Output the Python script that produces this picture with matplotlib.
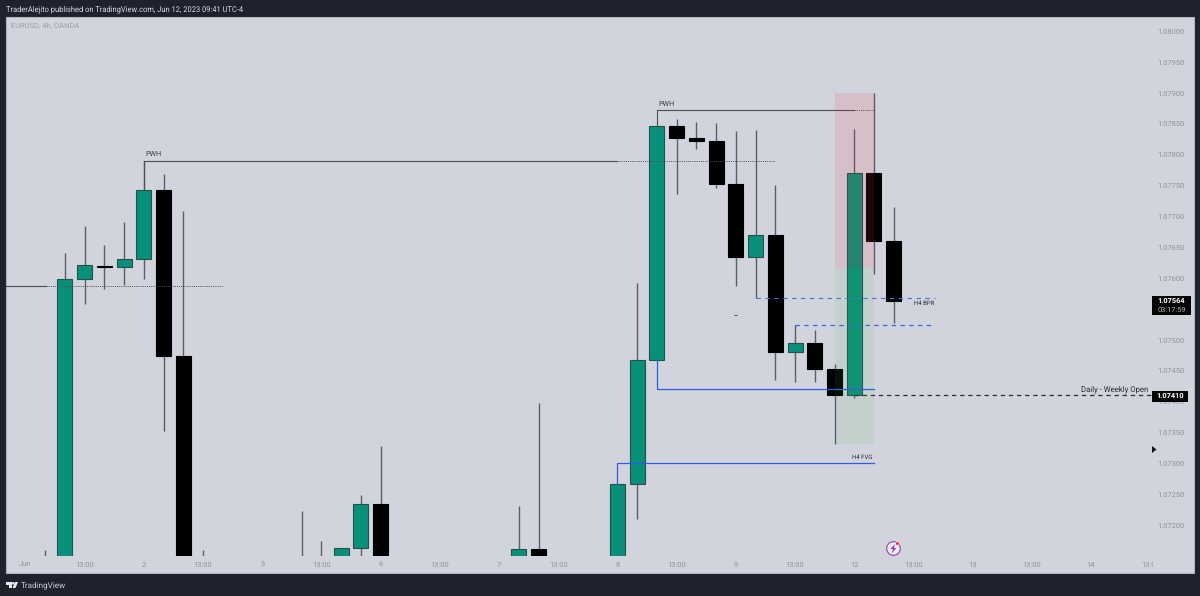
import matplotlib
matplotlib.use("Agg")
import matplotlib.pyplot as plt
from matplotlib.patches import Rectangle, Polygon, Circle

plt.rcParams['font.family'] = ['Roboto', 'DejaVu Sans']
plt.rcParams['text.hinting'] = 'no_hinting'
plt.rcParams['text.hinting_factor'] = 8

# ---- data ----
candle_idx = [1, 2, 3, 4, 5, 6, 7, 8, 9, 14, 15, 16, 17, 18, 25, 26, 30, 31, 32, 33, 34, 35, 36, 37, 38, 39, 40, 41, 42, 43, 44]
opens  = [1.07120, 1.07000, 1.07599, 1.07620, 1.07618, 1.07631, 1.07743, 1.07474, 1.07100, 1.07100, 1.07100, 1.07120, 1.07163, 1.07235, 1.07120, 1.07161, 1.07100, 1.07266, 1.07467, 1.07847, 1.07827, 1.07822, 1.07753, 1.07634, 1.07670, 1.07480, 1.07495, 1.07453, 1.07410, 1.07770, 1.07660]
closes = [1.07110, 1.07599, 1.07621, 1.07618, 1.07631, 1.07743, 1.07474, 1.07000, 1.07090, 1.07090, 1.07090, 1.07163, 1.07235, 1.07100, 1.07161, 1.07100, 1.07266, 1.07467, 1.07847, 1.07827, 1.07822, 1.07753, 1.07634, 1.07670, 1.07480, 1.07495, 1.07453, 1.07410, 1.07770, 1.07660, 1.07563]
highs  = [1.07159, 1.07641, 1.07684, 1.07654, 1.07691, 1.07790, 1.07769, 1.07709, 1.07159, 1.07223, 1.07175, 1.07163, 1.07248, 1.07328, 1.07231, 1.07398, 1.07266, 1.07592, 1.07847, 1.07858, 1.07853, 1.07851, 1.07838, 1.07840, 1.07751, 1.07524, 1.07516, 1.07461, 1.07842, 1.07900, 1.07715]
lows   = [1.07000, 1.07000, 1.07558, 1.07582, 1.07589, 1.07599, 1.07352, 1.06900, 1.07000, 1.07000, 1.07000, 1.07000, 1.07100, 1.07000, 1.07100, 1.07000, 1.07000, 1.07210, 1.07467, 1.07736, 1.07809, 1.07746, 1.07587, 1.07568, 1.07435, 1.07432, 1.07432, 1.07331, 1.07406, 1.07607, 1.07527]

time_ticks = list(range(0, 60, 3))
time_labels = ['Jun', '13:00', '2', '13:00', '5', '13:00', '6', '13:00', '7', '13:00', '8', '13:00', '9', '13:00', '12', '13:00', '13', '13:00', '14', '13:00']
price_ticks = [1.07200, 1.07250, 1.07300, 1.07350, 1.07400, 1.07450, 1.07500, 1.07550, 1.07600, 1.07650, 1.07700, 1.07750, 1.07800, 1.07850, 1.07900, 1.07950, 1.08000]

pwh_1 = 1.07790
pwh_2 = 1.07872
left_level = 1.07587
blue_1 = 1.07420
blue_2 = 1.07300
bpr_top = 1.07568
bpr_bottom = 1.07524
weekly_open = 1.07410
last_price = 1.07564
red_box = (1.07616, 1.07900)
green_box = (1.07331, 1.07616)

# ---- colours ----
DARK = '#1e222d'
PANE = '#d1d4dc'
GREEN = '#08907a'
GREEN_EDGE = '#24504e'
WICK = '#5a5e68'
GREY = '#8e929c'

W, H = 1200, 596
fig = plt.figure(figsize=(W / 100, H / 100), dpi=100, facecolor=DARK)

# pane
fig.add_artist(Rectangle((6 / W, 1 - 573 / H), 1188 / W, 556 / H, transform=fig.transFigure,
                         facecolor=PANE, edgecolor='#aeb2bc', lw=0.8, zorder=-5))

ax = fig.add_axes([6 / W, 1 - 556 / H, 1146 / W, 539 / H])
ax.patch.set_alpha(0)
ax.set_xlim(-0.988, 57.09)
ax.set_ylim(1.07150, 1.08023)
for s in ax.spines.values():
    s.set_visible(False)

# candles
bw = 0.76
for i, o, c, h, l in zip(candle_idx, opens, closes, highs, lows):
    up = c >= o
    ax.vlines(i, l, h, color=WICK, lw=1.0, zorder=2)
    ax.bar(i, abs(c - o), bottom=min(o, c), width=bw,
           color=GREEN if up else '#000000',
           edgecolor=GREEN_EDGE if up else '#000000', lw=0.8, zorder=3)

LW = 0.8
LINE = '#4a4e57'
TXT = '#3c3f47'
# PWH 1
ax.plot([6, 6], [1.07743, pwh_1], color=LINE, lw=LW, zorder=4)
ax.plot([6, 30], [pwh_1, pwh_1], color=LINE, lw=LW, zorder=4)
ax.plot([30, 38], [pwh_1, pwh_1], color=LINE, lw=0.7, ls=(0, (1, 1.2)), zorder=4)
ax.text(6.1, pwh_1 + 0.00005, 'PWH', fontsize=5.2, color=TXT, va='bottom', ha='left')
# PWH 2
ax.plot([32, 32], [1.07847, pwh_2], color=LINE, lw=LW, zorder=4)
ax.plot([32, 42], [pwh_2, pwh_2], color=LINE, lw=LW, zorder=4)
ax.plot([42, 43], [pwh_2, pwh_2], color=LINE, lw=0.7, ls=(0, (1, 1.2)), zorder=4)
ax.text(32.05, pwh_2 + 0.00005, 'PWH', fontsize=5.2, color=TXT, va='bottom', ha='left')
# left level
ax.plot([-1, 1.05], [left_level, left_level], color=LINE, lw=LW, zorder=4)
ax.plot([1.05, 10], [left_level, left_level], color=LINE, lw=0.7, ls=(0, (1, 1.2)), zorder=4)
# blue lines
BLUE = '#2f5bea'
ax.plot([32, 32, 43], [1.07467, blue_1, blue_1], color=BLUE, lw=0.9, zorder=4)
ax.plot([30, 30, 43], [1.07266, blue_2, blue_2], color=BLUE, lw=0.9, zorder=4)
ax.text(42.9, blue_2 + 0.00005, 'H4 FVG', fontsize=4.3, color='#2a2d35', ha='right', va='bottom')
# BPR
ax.plot([37, 46.1], [bpr_top, bpr_top], color='#4f70dc', lw=0.8, ls=(0, (4, 4)), zorder=4)
ax.plot([39, 46], [bpr_bottom, bpr_bottom], color='#3a62e6', lw=0.9, ls=(0, (3.5, 3.5)), zorder=4)
ax.text(46.05, bpr_top - 0.00004, 'H4 BPR', fontsize=4.3, color='#2a2d35', ha='right', va='top')
ax.hlines(1.07541, 35.93, 36.07, color='#444444', lw=0.7, zorder=4)
# weekly open
ax.plot([42, 58], [weekly_open, weekly_open], color='#2b2e36', lw=0.9, ls=(0, (3.5, 3)), zorder=4)
ax.text(56.9, weekly_open + 0.00004, 'Daily - Weekly Open', fontsize=5.6, color='#2a2d35', ha='right', va='bottom')
# boxes
ax.add_patch(Rectangle((41, red_box[0]), 2, red_box[1] - red_box[0], facecolor='#f23645', alpha=0.12, lw=0, zorder=5))
ax.add_patch(Rectangle((41, green_box[0]), 2, green_box[1] - green_box[0], facecolor='#4caf50', alpha=0.10, lw=0, zorder=5))

# axes ticks
ax.yaxis.tick_right()
ax.set_yticks(price_ticks)
ax.set_yticklabels([f'{p:.5f}' for p in price_ticks], fontsize=5.4, color=GREY)
ax.tick_params(axis='y', length=0, pad=4)
ax.set_xticks(time_ticks)
ax.set_xticklabels(time_labels, fontsize=5.4, color=GREY)
ax.tick_params(axis='x', length=0, pad=4)

# overlay in pixel coordinates for chrome
ov = fig.add_axes([0, 0, 1, 1], zorder=10)
ov.set_xlim(0, W)
ov.set_ylim(H, 0)
ov.axis('off')
ov.patch.set_alpha(0)

clip = Rectangle((0, 0), 1153, H, transform=ov.transData)
for t in ax.get_xticklabels():
    t.set_clip_path(clip)
    t.set_clip_on(True)

ov.text(6.5, 9, 'TraderAlejito published on TradingView.com, Jun 12, 2023 09:41 UTC-4',
        fontsize=5.45, color='#d8dae0', va='center', ha='left')
ov.text(11, 26, 'EURUSD, 4h, OANDA', fontsize=5.4, color='#9a9ea8', va='center', ha='left')

# price tags
ov.add_patch(Rectangle((1152, 296), 39, 19, facecolor='#050505', lw=0))
ov.text(1171.5, 300.8, f'{last_price:.5f}', fontsize=5.3, color='white', fontweight='bold', ha='center', va='center')
ov.text(1171.5, 310.2, '03:17:59', fontsize=5.3, color='#b5b8c0', ha='center', va='center')
ov.add_patch(Rectangle((1152, 391), 36, 11, facecolor='#050505', lw=0))
ov.text(1170, 396.3, f'{weekly_open:.5f}', fontsize=5.3, color='white', fontweight='bold', ha='center', va='center')
ov.add_patch(Polygon([(1152, 446), (1156.5, 449.5), (1152, 453)], facecolor='#15171c', lw=0))

# alert icon
ov.add_patch(Circle((893.5, 548.5), 6.8, facecolor='#f2eef6', edgecolor='#9c4fb8', lw=0.9))
ov.add_patch(Polygon([(895, 544), (890.5, 549), (893, 549), (892, 553), (896.5, 548), (894, 548)], facecolor='#8a3fa8', lw=0))
ov.add_patch(Circle((897.5, 543.5), 1.9, facecolor='#e8344e', edgecolor='white', lw=0.4))

# TradingView logo
ov.add_patch(Polygon([(6, 582), (12, 582), (12, 588), (9, 588), (9, 585), (6, 585)], facecolor='#e8e9ed', lw=0))
ov.add_patch(Circle((13.2, 583.3), 1.3, facecolor='#e8e9ed', lw=0))
ov.add_patch(Polygon([(15, 582), (18, 582), (15.5, 588), (12.5, 588)], facecolor='#e8e9ed', lw=0))
ov.text(21, 585, 'TradingView', fontsize=5.9, color='#c9ccd4', va='center', ha='left')

fig.savefig('out.png', dpi=100, facecolor=DARK)
